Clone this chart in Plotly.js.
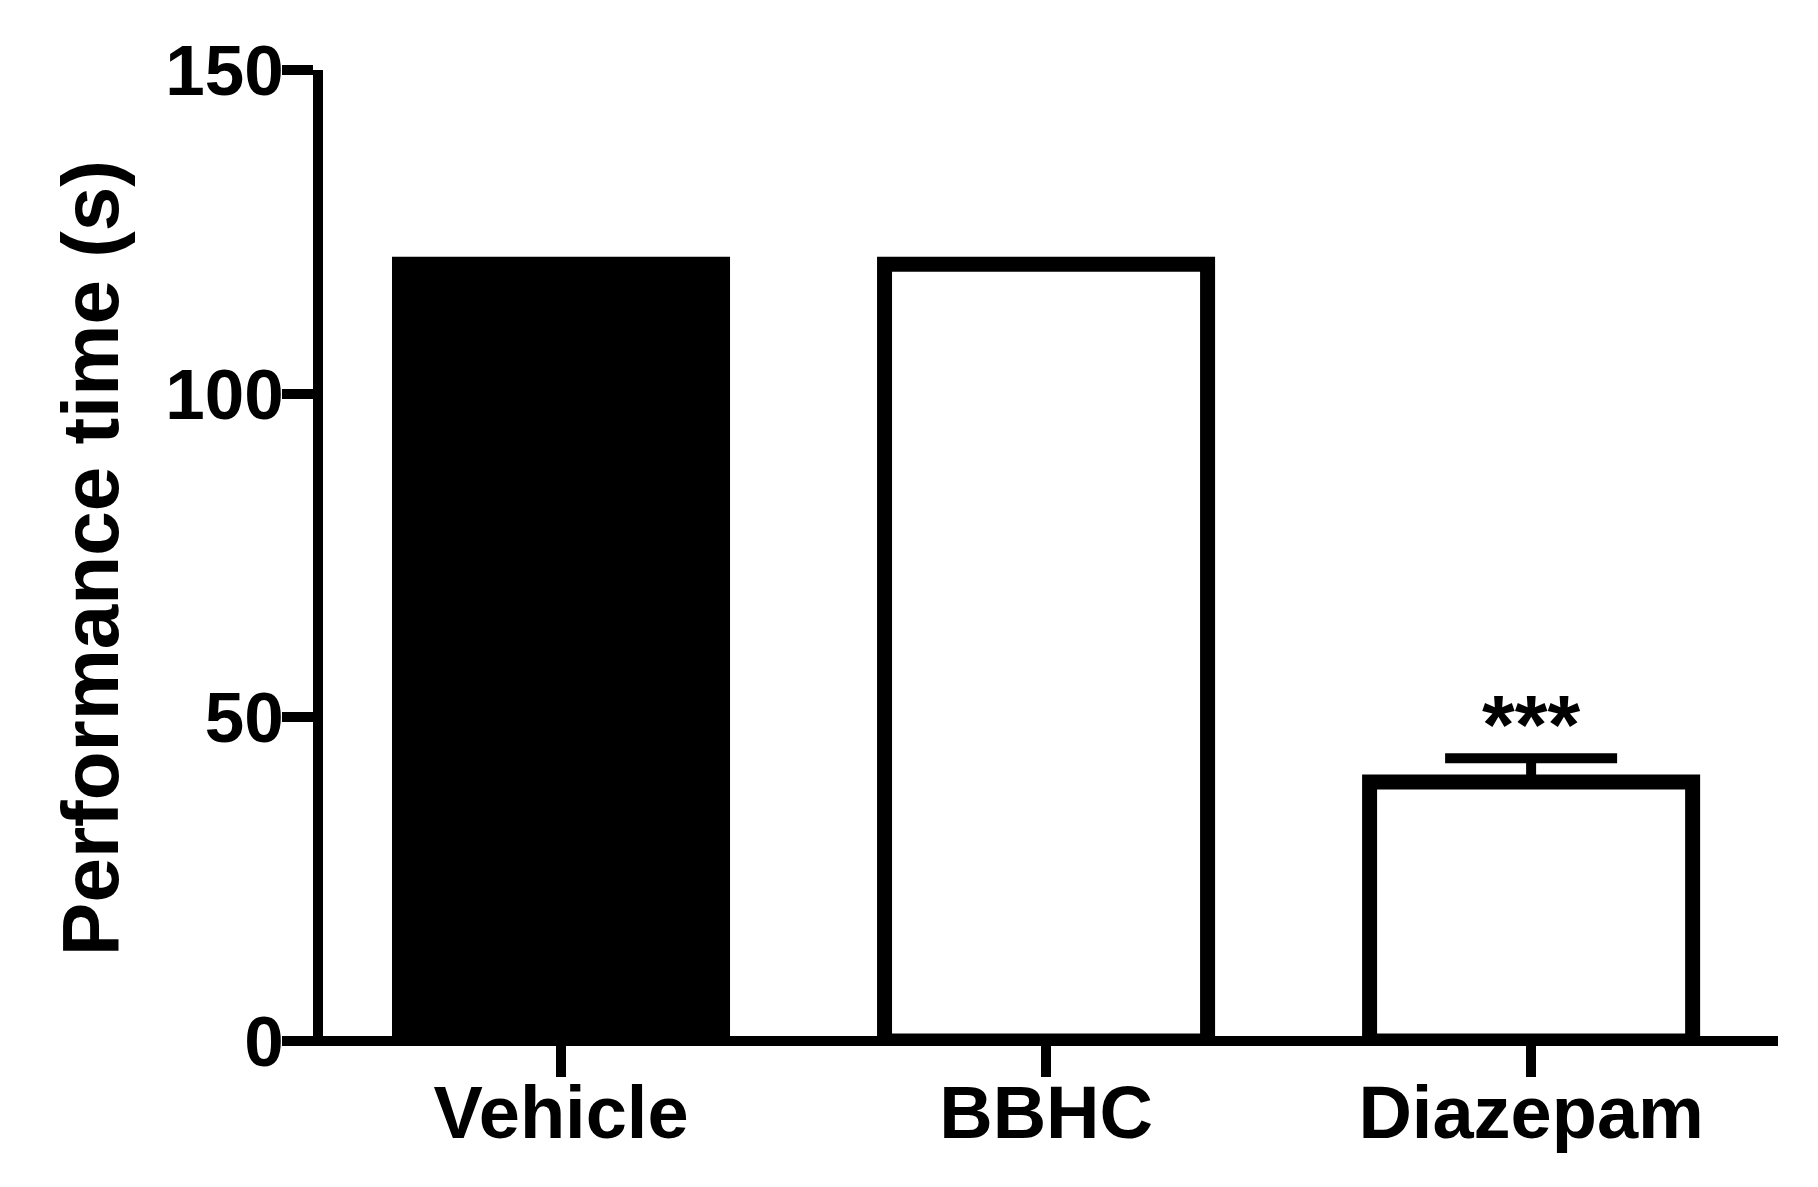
<!DOCTYPE html>
<html>
<head>
<meta charset="utf-8">
<script src="https://cdn.plot.ly/plotly-3.0.1.min.js"></script>
<style>html,body{margin:0;padding:0;background:#fff;}#chart{width:1818px;height:1187px;}</style>
</head>
<body>
<div id="chart"></div>
<script>
var categories = ["Vehicle", "BBHC", "Diazepam"];
var values = [120, 120, 40];
var errorsUp = [0, 0, 3.7];
var fillColors = ["#000000", "#ffffff", "#ffffff"];
var yTickVals = [0, 50, 100, 150];
var yTickText = ["0", "50", "100", "150"];
var yTitle = "Performance time (s)";
var sigLabel = "***";

var FONT = "Liberation Sans, Arial, sans-serif";

var trace = {
  type: "bar",
  x: categories,
  y: values,
  width: 0.666,
  marker: { color: fillColors, line: { color: "#000000", width: 15 } },
  error_y: {
    type: "data", symmetric: false,
    array: errorsUp, arrayminus: [0, 0, 0],
    color: "#000000", thickness: 10, width: 86
  },
  hoverinfo: "none"
};

var layout = {
  width: 1818, height: 1187,
  margin: { l: 323, r: 40, t: 69.5, b: 140.5, pad: 0 },
  paper_bgcolor: "#ffffff", plot_bgcolor: "#ffffff",
  showlegend: false,
  bargap: 0,
  xaxis: {
    type: "category",
    range: [-0.4907, 2.509],
    anchor: "free", position: 0.005118,
    showline: true, linecolor: "#000000", linewidth: 10,
    ticks: "outside", ticklen: 31, tickwidth: 10, tickcolor: "#000000",
    ticklabelstandoff: -28,
    showgrid: false, zeroline: false,
    tickfont: { family: FONT, size: 74, color: "#000000", weight: "bold" }
  },
  yaxis: {
    range: [-0.77, 150],
    tickvals: yTickVals, ticktext: yTickText,
    showline: true, linecolor: "#000000", linewidth: 10,
    ticks: "outside", ticklen: 31, tickwidth: 10, tickcolor: "#000000",
    ticklabelstandoff: -16,
    showgrid: false, zeroline: false,
    tickfont: { family: FONT, size: 71, color: "#000000", weight: "bold" },
    title: { text: yTitle, standoff: 24, font: { family: FONT, size: 80, color: "#000000", weight: "bold" } }
  },
  annotations: [{
    x: 2, y: values[2] + errorsUp[2], xref: "x", yref: "y",
    text: sigLabel, showarrow: false, yanchor: "bottom", yshift: -16,
    font: { family: FONT, size: 84, color: "#000000", weight: "bold" }
  }]
};

Plotly.newPlot("chart", [trace], layout, { displayModeBar: false, staticPlot: true });
</script>
</body>
</html>
